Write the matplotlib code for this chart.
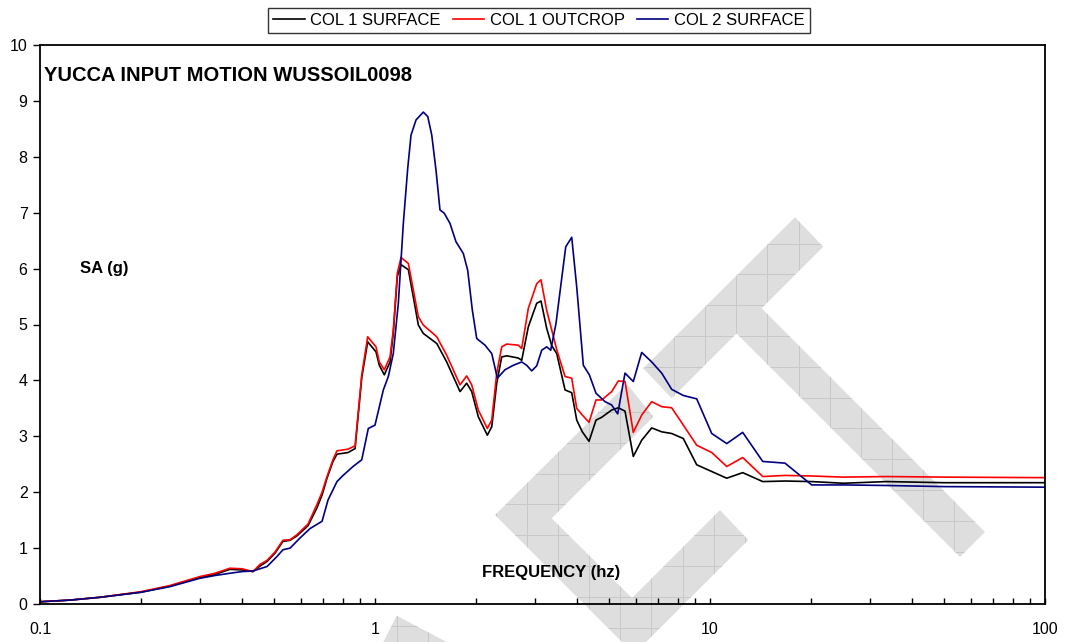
import matplotlib
matplotlib.use("Agg")
import matplotlib.pyplot as plt
import numpy as np
from matplotlib.patches import Polygon
from matplotlib.collections import LineCollection
from matplotlib.ticker import LogLocator, NullFormatter
from matplotlib.transforms import Affine2D

plt.rcParams["font.family"] = ["Liberation Sans", "DejaVu Sans"]

# --- data --------------------------------------------------------------
freq_col1 = [0.1, 0.123, 0.151, 0.2, 0.244, 0.3, 0.333, 0.369, 0.401, 0.432,
             0.454, 0.476, 0.503, 0.531, 0.558, 0.585, 0.631, 0.671, 0.695, 0.719,
             0.749, 0.77, 0.831, 0.872, 0.913, 0.951, 1.007, 1.03, 1.066, 1.109,
             1.134, 1.166, 1.196, 1.258, 1.347, 1.394, 1.529, 1.637, 1.794, 1.878,
             1.944, 2.034, 2.164, 2.231, 2.309, 2.389, 2.473, 2.678, 2.741, 2.869,
             3.039, 3.13, 3.255, 3.37, 3.487, 3.692, 3.866, 4.001, 4.158, 4.354,
             4.568, 4.75, 5.088, 5.324, 5.576, 5.902, 6.254, 6.699, 7.176, 7.685,
             8.325, 9.127, 10.12, 11.22, 12.52, 14.37, 16.74, 20.12, 25.0, 33.7,
             50.0, 100.0]

sa_col1_surface = [0.04, 0.07, 0.12, 0.21, 0.32, 0.47, 0.53, 0.62, 0.61, 0.58,
                   0.68, 0.76, 0.91, 1.12, 1.14, 1.22, 1.40, 1.72, 1.95, 2.25,
                   2.55, 2.68, 2.71, 2.78, 4.05, 4.69, 4.51, 4.27, 4.10, 4.33,
                   4.85, 5.86, 6.07, 5.98, 4.99, 4.84, 4.66, 4.33, 3.80, 3.95,
                   3.80, 3.35, 3.02, 3.17, 3.95, 4.42, 4.44, 4.40, 4.36, 4.96,
                   5.38, 5.42, 4.93, 4.62, 4.48, 3.83, 3.78, 3.29, 3.08, 2.91,
                   3.29, 3.34, 3.47, 3.51, 3.45, 2.64, 2.93, 3.15, 3.08, 3.05,
                   2.96, 2.49, 2.37, 2.25, 2.35, 2.19, 2.20, 2.19, 2.16, 2.19,
                   2.17, 2.17]

sa_col1_outcrop = [0.04, 0.07, 0.12, 0.22, 0.33, 0.49, 0.55, 0.64, 0.63, 0.58,
                   0.71, 0.78, 0.93, 1.14, 1.15, 1.24, 1.43, 1.78, 2.00, 2.28,
                   2.58, 2.74, 2.77, 2.83, 4.10, 4.78, 4.60, 4.33, 4.19, 4.42,
                   4.90, 5.92, 6.20, 6.09, 5.14, 4.99, 4.78, 4.45, 3.92, 4.08,
                   3.92, 3.47, 3.14, 3.29, 4.13, 4.60, 4.65, 4.63, 4.57, 5.29,
                   5.73, 5.80, 5.25, 4.90, 4.55, 4.07, 4.04, 3.50, 3.38, 3.25,
                   3.65, 3.65, 3.80, 3.99, 3.98, 3.07, 3.38, 3.62, 3.53, 3.51,
                   3.20, 2.84, 2.71, 2.46, 2.62, 2.28, 2.30, 2.29, 2.27, 2.28,
                   2.27, 2.26]

freq_col2 = [0.1, 0.123, 0.151, 0.2, 0.244, 0.3, 0.333, 0.369, 0.401, 0.432,
             0.476, 0.51, 0.531, 0.558, 0.597, 0.64, 0.695, 0.724, 0.77, 0.803,
             0.86, 0.913, 0.955, 1.0, 1.059, 1.096, 1.134, 1.174, 1.215, 1.252,
             1.281, 1.326, 1.394, 1.437, 1.477, 1.521, 1.563, 1.61, 1.674, 1.745,
             1.835, 1.891, 1.952, 2.012, 2.13, 2.231, 2.319, 2.443, 2.587, 2.741,
             2.837, 2.936, 3.039, 3.145, 3.255, 3.346, 3.47, 3.592, 3.71, 3.866,
             4.001, 4.187, 4.363, 4.568, 4.86, 5.088, 5.302, 5.576, 5.902, 6.254,
             6.699, 7.176, 7.685, 8.325, 9.127, 10.12, 11.22, 12.52, 14.37, 16.74,
             20.12, 25.0, 33.7, 50.0, 100.0]

sa_col2_surface = [0.04, 0.07, 0.12, 0.21, 0.31, 0.46, 0.51, 0.55, 0.58, 0.59,
                   0.67, 0.85, 0.97, 1.00, 1.18, 1.35, 1.48, 1.86, 2.19, 2.30,
                   2.46, 2.58, 3.14, 3.20, 3.83, 4.07, 4.48, 5.38, 6.81, 7.79,
                   8.39, 8.66, 8.80, 8.72, 8.39, 7.76, 7.05, 6.99, 6.81, 6.48,
                   6.27, 5.97, 5.26, 4.75, 4.63, 4.48, 4.04, 4.19, 4.27, 4.33,
                   4.27, 4.17, 4.26, 4.54, 4.60, 4.54, 5.02, 5.73, 6.39, 6.56,
                   5.67, 4.27, 4.10, 3.77, 3.62, 3.56, 3.40, 4.13, 3.98, 4.50,
                   4.33, 4.13, 3.84, 3.73, 3.67, 3.05, 2.87, 3.07, 2.55, 2.52,
                   2.13, 2.13, 2.12, 2.10, 2.09]

series_labels = ["COL 1 SURFACE", "COL 1 OUTCROP", "COL 2 SURFACE"]
x_tick_values = [0.1, 1, 10, 100]
x_tick_labels = ["0.1", "1", "10", "100"]

W, H = 1067, 642
fig = plt.figure(figsize=(W / 100, H / 100), dpi=100, facecolor="white")
ax = fig.add_axes([40 / W, 1 - 604 / H, 1005 / W, 559 / H])
ax.patch.set_visible(False)

# --- background watermark (drawn in pixel space, under the axes) -------
px = Affine2D().scale(1 / W, -1 / H).translate(0, 1) + fig.transFigure
watermark = [
    ([(643.3, 368.3), (795, 217.3), (823.3, 246.7), (761.7, 308.3),
      (985, 532), (960, 557), (736.5, 333.5), (671.7, 398.3)], 703.3, 278.3),
    ([(627, 384), (495, 515), (634, 654), (748.3, 540), (720, 510),
      (632, 598), (551.7, 518.3), (653.3, 416.7)], 525.0, 446.7),
    ([(383.3, 642), (396.7, 615.7), (446.7, 642), (430, 660), (375, 660)], 395.0, 630.0),
]
for verts, gx0, gy0 in watermark:
    poly = Polygon(verts, closed=True, facecolor="#dedede", edgecolor="none",
                   transform=px, zorder=-2)
    fig.add_artist(poly)
    gx = np.arange(gx0 - 31 * 20, gx0 + 31 * 20, 31.1)
    gy = np.arange(gy0 - 31 * 20, gy0 + 31 * 20, 30.8)
    segs = [[(x, 0), (x, H)] for x in gx] + [[(0, y), (W, y)] for y in gy]
    grid = LineCollection(segs, colors="#c8c8c8", linewidths=0.7,
                          transform=px, zorder=-1)
    grid.set_clip_path(poly)
    fig.add_artist(grid)

# --- curves ---------------------------------------------------------------
ax.plot(freq_col1, sa_col1_surface, color="black", lw=1.2, label=series_labels[0])
ax.plot(freq_col1, sa_col1_outcrop, color="#ff0000", lw=1.2, label=series_labels[1])
ax.plot(freq_col2, sa_col2_surface, color="#000080", lw=1.2, label=series_labels[2])

ax.set_xscale("log")
ax.set_xlim(0.1, 100)
ax.set_ylim(0, 10)
ax.set_xticks(x_tick_values)
ax.set_xticklabels(x_tick_labels)
ax.xaxis.set_minor_locator(LogLocator(base=10, subs=np.arange(2, 10)))
ax.xaxis.set_minor_formatter(NullFormatter())
ax.set_yticks(range(0, 11))
ax.tick_params(axis="x", which="both", direction="in", length=4, width=1,
               pad=13, labelsize=11.5)
ax.tick_params(axis="y", direction="out", length=5, width=1, pad=4, labelsize=11.5)
for sp in ax.spines.values():
    sp.set_linewidth(1.3)

ax.text(0.004, 0.946, "YUCCA INPUT MOTION WUSSOIL0098", transform=ax.transAxes,
        fontsize=14.5, fontweight="bold", ha="left", va="center")
ax.text(0.04, 0.601, "SA (g)", transform=ax.transAxes,
        fontsize=12, fontweight="bold", ha="left", va="center")
ax.text(0.44, 0.0555, "FREQUENCY (hz)", transform=ax.transAxes,
        fontsize=12, fontweight="bold", ha="left", va="center")

leg = fig.legend(loc="upper center", bbox_to_anchor=(0.505, 0.9875), ncol=3,
                 fontsize=12, frameon=True, fancybox=False, borderpad=0.3,
                 handlelength=1.9, handletextpad=0.35, columnspacing=0.7,
                 borderaxespad=0)
leg.get_frame().set_edgecolor("black")
leg.get_frame().set_linewidth(1.0)

fig.savefig("out.png", dpi=100, facecolor="white")
plt.close(fig)
